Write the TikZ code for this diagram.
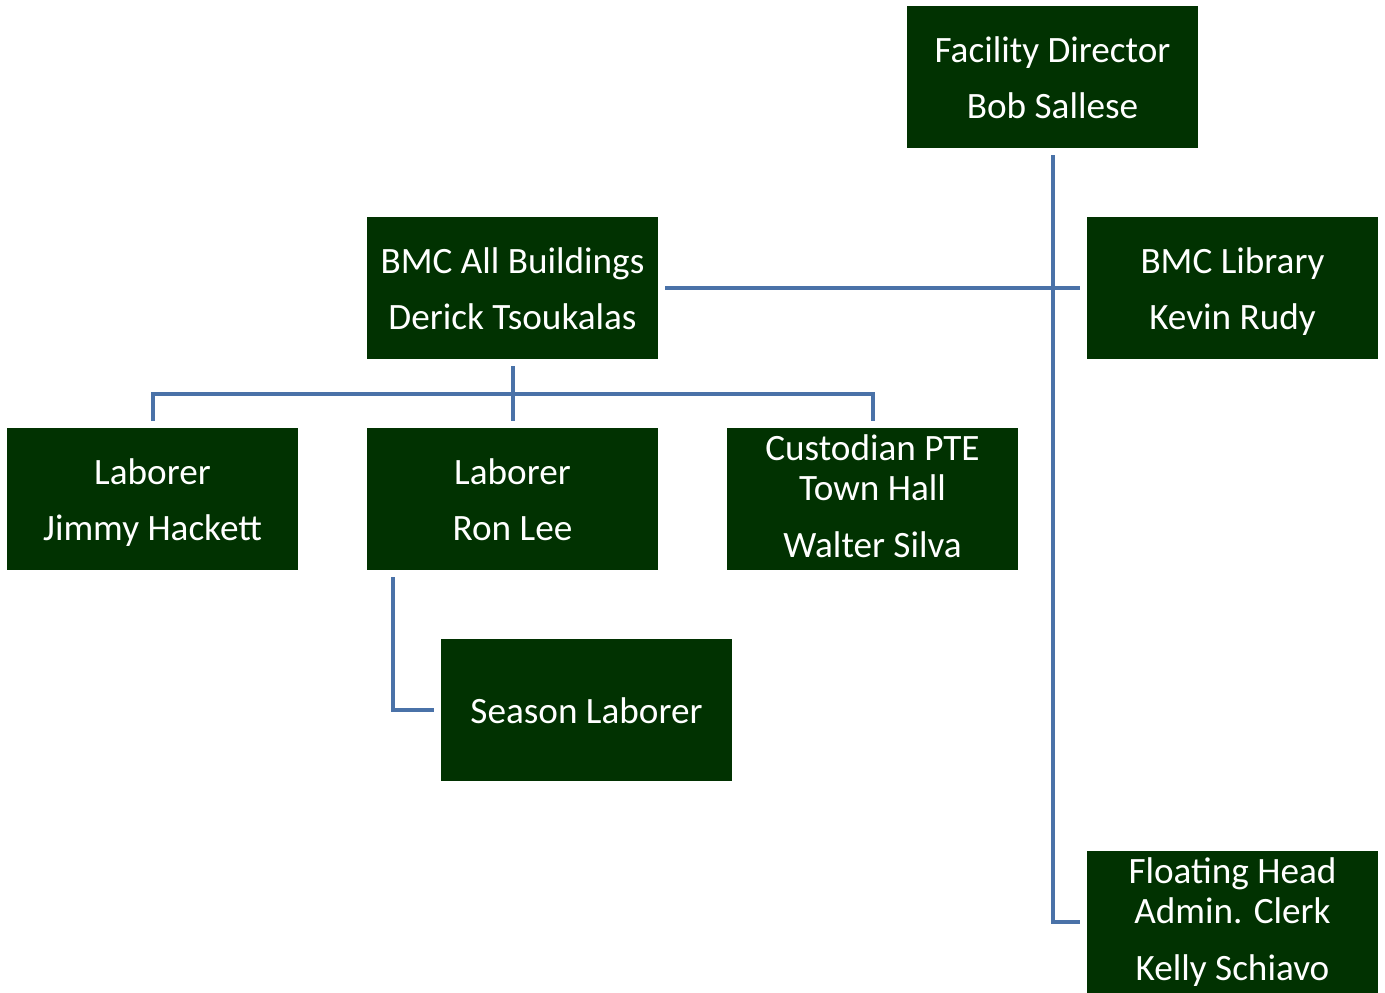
\documentclass[tikz,border=0pt]{standalone}
\usepackage{fontspec}
\setmainfont{Carlito}
\usetikzlibrary{calc}
\definecolor{boxgreen}{RGB}{1,50,1}
\definecolor{linkblue}{RGB}{74,114,168}
\newcommand\tallstrut{\rule{0pt}{19pt}}
\newcommand\midstrut{\rule{0pt}{16pt}}
\begin{document}
\begin{tikzpicture}[x=0.5pt,y=-0.5pt,
  orgbox/.style={rectangle, fill=boxgreen, draw=none, text=white,
    minimum width=145.5pt, minimum height=71pt, inner sep=0pt,
    outer sep=3.5pt, align=center,
    font=\fontsize{18.6pt}{20pt}\selectfont},
  link/.style={draw=linkblue, line width=2pt}]
\useasboundingbox (0,0) rectangle (1385,992);
\clip (0,0) rectangle (1385,992);
\node[orgbox] (fd) at (1052.5,77) {\tallstrut Facility Director\\[8pt]Bob Sallese\strut};
\node[orgbox] (bmc) at (512.5,288) {\tallstrut BMC All Buildings\\[8pt]Derick Tsoukalas\strut};
\node[orgbox] (lib) at (1232.5,288) {\tallstrut BMC Library\\[8pt]Kevin Rudy\strut};
\node[orgbox] (l1) at (152.5,499) {\tallstrut Laborer\\[8pt]Jimmy Hackett\strut};
\node[orgbox] (l2) at (512.5,499) {\tallstrut Laborer\\[8pt]Ron Lee\strut};
\node[orgbox] (cust) at (872.5,499) {\midstrut Custodian PTE\\Town Hall\\[8.5pt]Walter Silva\strut};
\node[orgbox] (season) at (586.5,710) {\tallstrut Season Laborer\strut};
\node[orgbox] (float) at (1232.5,922) {\midstrut Floating Head\\Admin. Clerk\\[8.5pt]Kelly Schiavo\strut};

\coordinate (bar) at ($(bmc.south)!0.5!(l2.north)$);
\coordinate (s) at ([xshift=16.5pt]l2.south west);

\draw[link] (fd.south) |- (float.west);
\draw[link] (bmc.east) -- (lib.west);
\draw[link] (bmc.south) -- (l2.north);
\draw[link] (l1.north) |- (bar) -| (cust.north);
\draw[link] (s) |- (season.west);
\end{tikzpicture}
\end{document}
